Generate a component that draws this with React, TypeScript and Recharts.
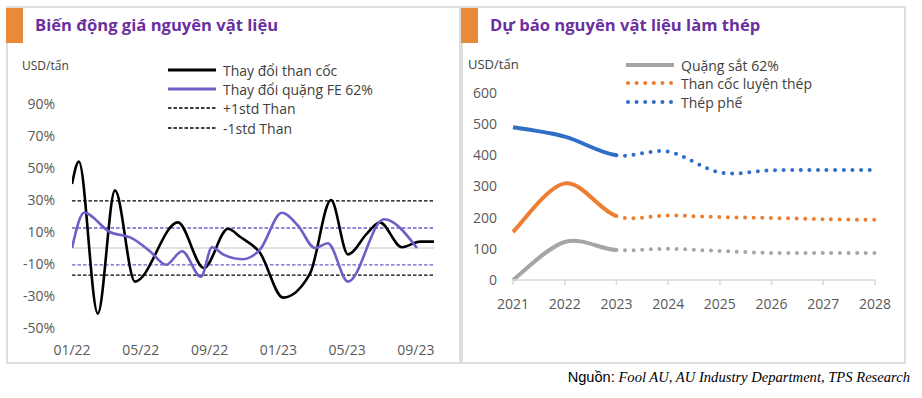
import React from 'react';
import { LineChart, Line, XAxis, YAxis, ReferenceLine } from 'recharts';

// ---- left chart: monthly change (%), x = months since 01/22
const cokeMonths = [0, 0.4, 1.5, 2.5, 3.66, 6.16, 7.67, 9.07, 9.77, 10.93, 12.27, 13.84, 15.06, 16.05, 17.15, 17.9, 19.19, 20.23, 21.05];
const cokeChange = [40, 54, -41, 36, -21, 16, -12.5, 12, 7, -3, -31, -16, 30, -4, 9, 16, 0.5, 4, 4];
const oreMonths = [0, 0.7, 2.2, 3.5, 4.53, 5.47, 6.4, 7.5, 8.14, 8.78, 9.94, 10.93, 12.2, 13.14, 14.13, 14.88, 16.05, 18.14, 20.06];
const oreChange = [0, 22, 10, 6, -2, -10.5, -2, -18, 0.5, -4, -7, -1, 22, 14, 0, 3, -21, 18, 0];
const cokeStdUp = 29.5;
const cokeStdDown = -17;
const oreStdUp = 12.5;
const oreStdDown = -10.5;
const leftTicks = [0, 4, 8, 12, 16, 20];
const leftTickLabels = ['01/22', '05/22', '09/22', '01/23', '05/23', '09/23'];
const leftYTicks = [-50, -30, -10, 10, 30, 50, 70, 90];
const leftLegend = ['Thay đổi than cốc', 'Thay đổi quặng FE 62%', '+1std Than', '-1std Than'];

// ---- right chart: USD/tấn by year (2021-2023 actual, then forecast)
const years = [2021, 2022, 2023, 2024, 2025, 2026, 2027, 2028];
const orePrice = [0, 122, 96, 100, 93, 87, 87, 87];
const cokePrice = [154, 310, 205, 207, 202, 199, 195, 193];
const scrapPrice = [490, 460, 400, 412, 345, 352, 353, 353];
const lastActual = 2023;
const rightYTicks = [0, 100, 200, 300, 400, 500, 600];
const rightLegend = ['Quặng sắt 62%', 'Than cốc luyện thép', 'Thép phế'];

const FONT = '"Open Sans", sans-serif';
const PURPLE = '#6C5FC7';
const ORANGE = '#ED7D31';
const GRAY = '#A5A5A5';
const BLUE = '#2F6FC6';
const TITLE = '#6B2FA0';

const cokeData = cokeMonths.map((m, i) => ({ m, v: cokeChange[i] }));
const oreData = oreMonths.map((m, i) => ({ m, v: oreChange[i] }));

// actual series keeps one phantom point after 2023, forecast one before it,
// so the smoothing at the join looks like one continuous curve
const rightData = years.map((year, i) => ({
  year,
  ore: year <= lastActual + 1 ? orePrice[i] : undefined,
  oreF: year >= lastActual - 1 ? orePrice[i] : undefined,
  coke: year <= lastActual + 1 ? cokePrice[i] : undefined,
  cokeF: year >= lastActual - 1 ? cokePrice[i] : undefined,
  scrap: year <= lastActual + 1 ? scrapPrice[i] : undefined,
  scrapF: year >= lastActual - 1 ? scrapPrice[i] : undefined,
}));

// Excel-like smoothing (Catmull-Rom), optionally hiding the first/last segment
function smooth(skipFirst: boolean, skipLast: boolean) {
  return (context: any) => {
    let pts: number[][] = [];
    return {
      areaStart() {},
      areaEnd() {},
      lineStart() {
        pts = [];
      },
      point(x: number, y: number) {
        pts.push([+x, +y]);
      },
      lineEnd() {
        const n = pts.length;
        if (!n) return;
        const s = skipFirst ? 1 : 0;
        const e = skipLast ? n - 2 : n - 1;
        context.moveTo(pts[s][0], pts[s][1]);
        for (let i = s; i < e; i++) {
          const p0 = pts[Math.max(i - 1, 0)];
          const p1 = pts[i];
          const p2 = pts[i + 1];
          const p3 = pts[Math.min(i + 2, n - 1)];
          context.bezierCurveTo(
            p1[0] + (p2[0] - p0[0]) / 6,
            p1[1] + (p2[1] - p0[1]) / 6,
            p2[0] - (p3[0] - p1[0]) / 6,
            p2[1] - (p3[1] - p1[1]) / 6,
            p2[0],
            p2[1]
          );
        }
      },
    };
  };
}
const actualCurve = smooth(false, true);
const forecastCurve = smooth(true, false);

const tickStyle = { fill: '#595959', fontSize: 14, fontFamily: FONT };

function Panel({ left, width, title }: { left: number; width: number; title: string }) {
  return (
    <>
      <div
        style={{
          position: 'absolute',
          left,
          top: 6,
          width: width - 4,
          height: 354,
          border: '2px solid #DEDEDE',
        }}
      />
      <div style={{ position: 'absolute', left, top: 8, width: 17, height: 35, background: '#E98A3B' }} />
      <div
        style={{
          position: 'absolute',
          left: left + 29,
          top: 14,
          color: TITLE,
          fontFamily: FONT,
          fontWeight: 700,
          fontSize: 16.6,
          lineHeight: '22px',
          whiteSpace: 'nowrap',
        }}
      >
        {title}
      </div>
    </>
  );
}

function LegendRow({
  x,
  y,
  label,
  color,
  width,
  dash,
  round,
}: {
  x: number;
  y: number;
  label: string;
  color: string;
  width: number;
  dash?: string;
  round?: boolean;
}) {
  return (
    <div style={{ position: 'absolute', left: x, top: y - 10, height: 20, display: 'flex', alignItems: 'center' }}>
      <svg width={50} height={20} style={{ display: 'block' }}>
        <line
          x1={round ? 2 : 0}
          x2={48}
          y1={10}
          y2={10}
          stroke={color}
          strokeWidth={width}
          strokeDasharray={dash}
          strokeLinecap={round ? 'round' : 'butt'}
        />
      </svg>
      <span
        style={{
          marginLeft: 5,
          fontFamily: FONT,
          fontSize: 14,
          color: '#404040',
          whiteSpace: 'nowrap',
        }}
      >
        {label}
      </span>
    </div>
  );
}

export default function App() {
  return (
    <div style={{ position: 'absolute', left: 0, top: 0, width: 922, height: 398, background: '#fff', overflow: 'hidden' }}>
      <Panel left={6} width={455} title="Biến động giá nguyên vật liệu" />
      <Panel left={461} width={445} title="Dự báo nguyên vật liệu làm thép" />

      {/* left chart */}
      <div style={{ position: 'absolute', left: 22, top: 57, fontFamily: FONT, fontSize: 12, color: '#404040' }}>USD/tấn</div>
      <div style={{ position: 'absolute', left: 0, top: 0 }}>
        <LineChart width={460} height={370} margin={{ top: 104, right: 26, bottom: 12, left: 12 }}>
          <XAxis
            type="number"
            dataKey="m"
            domain={[0, 21.05]}
            ticks={leftTicks}
            tickFormatter={(v: number) => leftTickLabels[leftTicks.indexOf(v)] ?? ''}
            axisLine={false}
            tickLine={false}
            tickSize={0}
            tickMargin={17}
            height={30}
            tick={tickStyle}
            allowDataOverflow
          />
          <YAxis
            type="number"
            domain={[-50, 90]}
            ticks={leftYTicks}
            tickFormatter={(v: number) => `${v}%`}
            axisLine={false}
            tickLine={false}
            tickSize={0}
            tickMargin={17}
            width={60}
            tick={tickStyle}
            allowDataOverflow
          />
          <ReferenceLine y={0} stroke="#D9D9D9" strokeWidth={1.5} />
          <ReferenceLine y={cokeStdUp} stroke="#000" strokeWidth={1.3} strokeDasharray="3.5 2" />
          <ReferenceLine y={cokeStdDown} stroke="#000" strokeWidth={1.3} strokeDasharray="3.5 2" />
          <ReferenceLine y={oreStdUp} stroke={PURPLE} strokeWidth={1.3} strokeDasharray="3.5 2" />
          <ReferenceLine y={oreStdDown} stroke={PURPLE} strokeWidth={1.3} strokeDasharray="3.5 2" />
          <Line
            data={cokeData}
            dataKey="v"
            type="monotone"
            stroke="#000"
            strokeWidth={2.6}
            dot={false}
            activeDot={false}
            isAnimationActive={false}
          />
          <Line
            data={oreData}
            dataKey="v"
            type="monotone"
            stroke={PURPLE}
            strokeWidth={2.6}
            dot={false}
            activeDot={false}
            isAnimationActive={false}
          />
        </LineChart>
      </div>
      <LegendRow x={168} y={70} label={leftLegend[0]} color="#000" width={3} />
      <LegendRow x={168} y={89} label={leftLegend[1]} color={PURPLE} width={3} />
      <LegendRow x={168} y={108} label={leftLegend[2]} color="#000" width={1.3} dash="3.5 2" />
      <LegendRow x={168} y={128} label={leftLegend[3]} color="#000" width={1.3} dash="3.5 2" />

      {/* right chart */}
      <div style={{ position: 'absolute', left: 468, top: 55, fontFamily: FONT, fontSize: 13, color: '#404040' }}>USD/tấn</div>
      <div style={{ position: 'absolute', left: 460, top: 0 }}>
        <LineChart data={rightData} width={444} height={370} margin={{ top: 93, right: 29, bottom: 50, left: 8 }}>
          <XAxis
            type="number"
            dataKey="year"
            domain={[2021, 2028]}
            ticks={years}
            axisLine={{ stroke: '#D9D9D9', strokeWidth: 1.5 }}
            tickLine={{ stroke: '#D9D9D9', strokeWidth: 1.5 }}
            tickSize={5}
            tickMargin={14}
            height={40}
            tick={tickStyle}
          />
          <YAxis
            type="number"
            domain={[0, 600]}
            ticks={rightYTicks}
            axisLine={false}
            tickLine={false}
            tickSize={0}
            tickMargin={16}
            width={45}
            tick={tickStyle}
          />
          <Line dataKey="ore" type={actualCurve as any} stroke={GRAY} strokeWidth={4} dot={false} activeDot={false} isAnimationActive={false} />
          <Line dataKey="oreF" type={forecastCurve as any} stroke={GRAY} strokeWidth={4} strokeDasharray="0 8.6" strokeLinecap="round" dot={false} activeDot={false} isAnimationActive={false} />
          <Line dataKey="coke" type={actualCurve as any} stroke={ORANGE} strokeWidth={4} dot={false} activeDot={false} isAnimationActive={false} />
          <Line dataKey="cokeF" type={forecastCurve as any} stroke={ORANGE} strokeWidth={4} strokeDasharray="0 8.6" strokeLinecap="round" dot={false} activeDot={false} isAnimationActive={false} />
          <Line dataKey="scrap" type={actualCurve as any} stroke={BLUE} strokeWidth={4} dot={false} activeDot={false} isAnimationActive={false} />
          <Line dataKey="scrapF" type={forecastCurve as any} stroke={BLUE} strokeWidth={4} strokeDasharray="0 8.6" strokeLinecap="round" dot={false} activeDot={false} isAnimationActive={false} />
        </LineChart>
      </div>
      <LegendRow x={626} y={65} label={rightLegend[0]} color={GRAY} width={4} />
      <LegendRow x={626} y={83} label={rightLegend[1]} color={ORANGE} width={4} dash="0 8.6" round />
      <LegendRow x={626} y={102} label={rightLegend[2]} color={BLUE} width={4} dash="0 8.6" round />

      {/* source */}
      <div style={{ position: 'absolute', right: 12, top: 369, whiteSpace: 'nowrap', fontSize: 14.6, color: '#000' }}>
        <span style={{ fontFamily: '"Liberation Sans", Arial, sans-serif' }}>Nguồn:</span>{' '}
        <span style={{ fontFamily: '"Liberation Serif", serif', fontStyle: 'italic' }}>
          Fool AU, AU Industry Department, TPS Research
        </span>
      </div>
    </div>
  );
}
